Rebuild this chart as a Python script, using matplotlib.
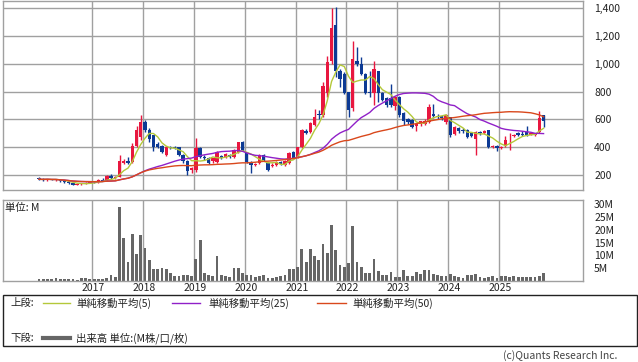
import matplotlib
matplotlib.use('Agg')
import matplotlib.pyplot as plt
import numpy as np
import pandas as pd
from matplotlib.lines import Line2D
from matplotlib.patches import Rectangle
import matplotlib.transforms as mtransforms

plt.rcParams['font.family'] = ['Noto Sans CJK JP', 'DejaVu Sans']

# ---- data (monthly, 2015-12 .. 2025-11) ----
months = pd.period_range('2015-12', '2025-11', freq='M')
open_ = [178, 170, 166, 172, 165, 168, 155, 150, 140, 130, 136, 140, 146,
         150, 147, 165, 162, 196, 176, 188, 290, 300, 295, 407, 470,
         581, 526, 486, 420, 407, 345, 405, 400, 400, 343, 302, 236,
         236, 393, 330, 321, 300, 295, 336, 333, 345, 329, 367, 436,
         357, 293, 275, 286, 343, 288, 265, 271, 293, 271, 286, 367,
         329, 400, 517, 509, 557, 640, 629, 786, 1021, 1279, 950, 928,
         795, 679, 1021, 1000, 928, 795, 793, 945, 786, 750, 750, 693,
         760, 643, 600, 593, 555, 570, 570, 581, 640, 625, 621, 581,
         614, 498, 540, 525, 521, 500, 462, 510, 505, 521, 400, 407,
         393, 407, 470, 480, 500, 498, 507, 490, 490, 507, 629]
high = [186, 178, 175, 175, 172, 170, 160, 152, 145, 140, 145, 150, 156,
        158, 172, 176, 202, 205, 192, 343, 312, 330, 431, 555, 629,
        595, 535, 490, 440, 415, 410, 412, 408, 405, 350, 310, 260,
        464, 400, 345, 330, 312, 375, 345, 360, 352, 385, 440, 443,
        365, 300, 290, 350, 350, 295, 285, 300, 300, 305, 365, 375,
        405, 530, 530, 580, 678, 665, 866, 1057, 1402, 1407, 960, 940,
        800, 1164, 1117, 1050, 935, 950, 1021, 950, 800, 760, 857, 770,
        770, 650, 610, 600, 575, 590, 600, 714, 714, 640, 630, 640,
        620, 555, 548, 540, 530, 505, 515, 520, 525, 525, 415, 415,
        412, 479, 500, 495, 510, 520, 550, 510, 505, 657, 632]
low = [165, 160, 160, 162, 156, 150, 145, 135, 126, 127, 132, 136, 140,
       143, 145, 156, 160, 170, 172, 185, 280, 282, 285, 400, 455,
       510, 438, 371, 395, 360, 335, 390, 385, 335, 290, 200, 214,
       225, 320, 310, 278, 290, 290, 315, 325, 325, 320, 360, 370,
       285, 214, 265, 280, 300, 230, 255, 265, 270, 265, 280, 315,
       320, 395, 495, 500, 550, 600, 620, 759, 1000, 902, 831, 780,
       617, 660, 980, 920, 780, 760, 700, 724, 730, 690, 690, 664,
       620, 560, 570, 540, 520, 555, 560, 575, 610, 600, 595, 570,
       475, 490, 505, 500, 465, 470, 343, 490, 495, 395, 395, 371,
       388, 400, 379, 470, 480, 480, 480, 485, 480, 500, 545]
close = [170, 168, 172, 165, 168, 155, 150, 140, 130, 136, 140, 146, 150,
         147, 165, 160, 196, 176, 186, 302, 300, 288, 407, 526, 581,
         521, 462, 402, 405, 367, 405, 398, 392, 343, 300, 231, 250,
         393, 330, 320, 286, 321, 367, 321, 350, 330, 379, 436, 379,
         293, 271, 282, 343, 307, 236, 275, 293, 278, 300, 357, 321,
         400, 521, 502, 571, 617, 629, 843, 1014, 1259, 950, 890, 786,
         664, 1036, 1000, 928, 786, 788, 964, 786, 740, 700, 700, 764,
         629, 586, 580, 543, 570, 585, 590, 688, 625, 615, 607, 629,
         486, 545, 520, 515, 474, 480, 509, 500, 515, 400, 407, 393,
         405, 450, 476, 486, 486, 488, 486, 500, 500, 607, 586]
volume_m = [0.7, 0.7, 0.7, 0.7, 1.3, 0.7, 0.7, 0.6, 0.6, 0.5, 1.0, 1.0, 0.8,
            0.7, 0.7, 0.8, 1.0, 2.3, 1.6, 29.0, 16.7, 7.3, 18.4, 10.7, 18.0,
            13.0, 8.0, 4.7, 4.7, 5.2, 4.7, 3.0, 2.0, 2.0, 2.4, 2.4, 2.0,
            8.7, 16.0, 3.0, 2.4, 2.0, 9.6, 2.4, 2.0, 1.6, 5.2, 5.2, 3.0,
            2.3, 2.4, 1.6, 2.0, 2.4, 1.3, 1.3, 1.6, 2.0, 2.5, 4.7, 4.7,
            5.6, 12.4, 7.6, 12.4, 9.7, 8.0, 14.4, 11.0, 22.0, 12.0, 6.4, 5.6,
            6.9, 21.6, 7.6, 5.6, 3.0, 3.0, 8.4, 4.0, 2.4, 2.4, 3.6, 1.7,
            1.7, 4.4, 2.0, 2.0, 3.6, 2.7, 4.1, 4.4, 2.8, 2.4, 2.0, 2.0,
            2.8, 2.0, 1.7, 1.0, 2.4, 2.4, 2.8, 1.6, 1.3, 1.6, 2.0, 1.3,
            2.0, 2.0, 1.6, 2.0, 1.6, 1.6, 1.6, 1.6, 1.6, 2.0, 3.0]
years = [2017, 2018, 2019, 2020, 2021, 2022, 2023, 2024, 2025]
price_ticks = [200, 400, 600, 800, 1000, 1200, 1400]
vol_ticks = [5, 10, 15, 20, 25, 30]
ma_windows = [5, 25, 50]
ma_labels = ['単純移動平均(5)', '単純移動平均(25)', '単純移動平均(50)']

# ---- style ----
RED = '#e8173f'
BLUE = '#0d3a94'
MA_COLORS = ['#b4c83a', '#9020c8', '#d9481c']
GRID = '#a0a0a0'
VOLC = '#666666'
FS = 7.5

W, H = 638, 362
fig = plt.figure(figsize=(W / 100, H / 100), dpi=100)


def ax_px(l, t, r, b):
    return fig.add_axes([l / W, 1 - b / H, (r - l) / W, (b - t) / H])


ax = ax_px(3, 1, 583, 190)
axv = ax_px(3, 200, 583, 281)

n = len(close)
idx = np.arange(n)
o = np.array(open_, float)
c = np.array(close, float)
hi = np.array(high, float)
lo = np.array(low, float)
month_pos = {(p.year, p.month): i for i, p in enumerate(months)}
year_x = [month_pos[(y, 1)] - 0.5 for y in years]

x0_px, dx_px = 39.0, 4.24
xlim = ((3 - x0_px) / dx_px, (583 - x0_px) / dx_px)

for a in (ax, axv):
    a.set_xlim(*xlim)
    for xv in year_x:
        a.axvline(xv, color=GRID, lw=1, zorder=0)
    for s in a.spines.values():
        s.set_color(GRID)
        s.set_linewidth(1)
    a.set_xticks([])
    a.tick_params(axis='y', length=0, labelsize=FS, pad=8, labelcolor='#222222')
    a.yaxis.tick_right()

# price panel
ax.set_ylim(93, 1450)
ax.set_yticks(price_ticks)
ax.set_yticklabels([f'{t:,}' for t in price_ticks])
for t in price_ticks:
    ax.axhline(t, color=GRID, lw=1, zorder=0)

up = c >= o
colors = np.where(up, RED, BLUE)
ax.vlines(idx, lo, hi, colors=colors, lw=1, zorder=2)
body_h = np.maximum(np.abs(c - o), 4)
ax.bar(idx, body_h, bottom=np.minimum(o, c), width=0.8, color=colors, zorder=3, linewidth=0)

cs = pd.Series(c)
for w, col in zip(ma_windows, MA_COLORS):
    ax.plot(idx, cs.rolling(w, min_periods=1).mean(), color=col, lw=1, zorder=4)

# volume panel
axv.set_ylim(0, 31.6)
axv.set_yticks(vol_ticks)
axv.set_yticklabels([f'{t}M' for t in vol_ticks])
axv.bar(idx, volume_m, width=0.66, color=VOLC, zorder=2, linewidth=0)
axv.text(5 / W, 1 - 208 / H, '単位: M', transform=fig.transFigure, fontsize=FS,
         va='center', ha='left', color='#222222')

# year labels
trans = mtransforms.blended_transform_factory(axv.transData, fig.transFigure)
for y, xv in zip(years, year_x):
    axv.text(xv + 0.3, 1 - 288 / H, str(y), transform=trans, ha='center', va='center',
             fontsize=FS, color='#222222', clip_on=False)

# legend box
fig.patches.append(Rectangle((3 / W, 1 - 346 / H), 634 / W, 51 / H, transform=fig.transFigure,
                             fill=False, edgecolor='#222222', lw=1))


def fx(px):
    return px / W


def fy(py):
    return 1 - py / H


row1, row2 = 303, 338
fig.text(fx(10), fy(row1), '上段:', fontsize=FS, va='center', ha='left', color='#222222')
line_x = [(43, 70), (172, 200), (317, 346)]
text_x = [76, 208, 352]
for (a0, a1), tx, col, lab in zip(line_x, text_x, MA_COLORS, ma_labels):
    fig.add_artist(Line2D([fx(a0), fx(a1)], [fy(row1), fy(row1)], color=col, lw=1,
                          transform=fig.transFigure))
    fig.text(fx(tx), fy(row1), lab, fontsize=FS, va='center', ha='left', color='#222222')

fig.text(fx(10), fy(row2), '下段:', fontsize=FS, va='center', ha='left', color='#222222')
fig.add_artist(Line2D([fx(43), fx(70)], [fy(row2), fy(row2)], color=VOLC, lw=3,
                      transform=fig.transFigure))
fig.text(fx(76), fy(row2), '出来高 単位:(M株/口/枚)', fontsize=FS, va='center', ha='left',
         color='#222222')

fig.text(fx(617), fy(356), '(c)Quants Research Inc.', fontsize=FS, va='center', ha='right',
         color='#444444')

fig.savefig('out.png', dpi=100)
